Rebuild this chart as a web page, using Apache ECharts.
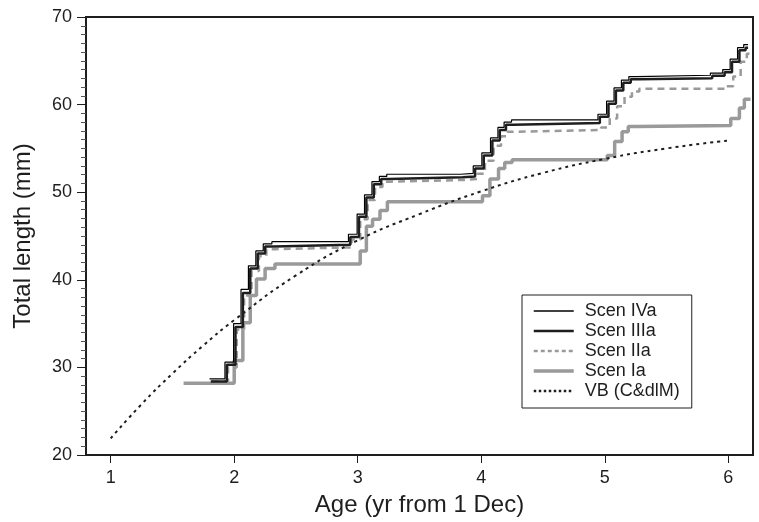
<!DOCTYPE html>
<html>
<head>
<meta charset="utf-8">
<script src="https://cdn.jsdelivr.net/npm/echarts@6/dist/echarts.min.js"></script>
<style>
  html, body { margin: 0; padding: 0; background: #fff; }
  #chart { width: 759px; height: 522px; }
</style>
</head>
<body>
<div id="chart"></div>
<script>
// [age (yr from 1 Dec), total length (mm)]
const scenIVa = [[1.80, 28.7], [1.925, 30.6], [1.995, 35.0], [2.055, 38.9], [2.115, 41.6], [2.175, 43.3], [2.235, 44.1], [2.305, 44.35], [2.925, 45.2], [2.995, 47.5], [3.055, 49.7], [3.115, 51.2], [3.175, 51.8], [3.235, 52.05], [3.835, 52.15], [3.935, 53.0], [4.005, 54.5], [4.075, 56.2], [4.135, 57.4], [4.185, 58.0], [4.245, 58.25], [4.945, 58.9], [5.015, 60.4], [5.075, 61.9], [5.135, 62.8], [5.195, 63.2], [5.255, 63.35], [5.855, 63.6], [5.955, 64.0], [6.015, 65.2], [6.075, 66.5], [6.125, 66.85], [6.16, 66.85]];
const scenIIIa = [[1.81, 28.4], [1.94, 30.3], [2.01, 34.6], [2.07, 38.5], [2.13, 41.3], [2.19, 43.0], [2.25, 43.8], [2.32, 44.0], [2.94, 44.9], [3.01, 47.2], [3.07, 49.4], [3.13, 50.9], [3.19, 51.5], [3.25, 51.7], [3.85, 51.8], [3.95, 52.7], [4.02, 54.2], [4.09, 55.9], [4.15, 57.1], [4.20, 57.7], [4.26, 57.9], [4.96, 58.6], [5.03, 60.1], [5.09, 61.6], [5.15, 62.5], [5.21, 62.9], [5.27, 63.0], [5.87, 63.3], [5.97, 63.7], [6.03, 64.9], [6.09, 66.2], [6.14, 66.5], [6.16, 66.5]];
const scenIIa = [[1.82, 28.4], [1.95, 30.0], [2.02, 34.3], [2.08, 38.2], [2.14, 41.0], [2.20, 42.7], [2.26, 43.5], [2.33, 43.7], [2.95, 44.6], [3.02, 46.9], [3.08, 49.1], [3.14, 50.6], [3.20, 51.2], [3.26, 51.4], [3.87, 51.5], [3.97, 52.1], [4.03, 53.6], [4.10, 55.3], [4.16, 56.4], [4.21, 56.9], [4.27, 57.1], [4.97, 57.4], [5.04, 58.4], [5.10, 59.8], [5.16, 60.9], [5.22, 61.5], [5.28, 61.8], [5.98, 62.1], [6.04, 63.2], [6.10, 64.9], [6.15, 65.8], [6.18, 65.8]];
const scenIa = [[1.59, 28.2], [2.0, 30.8], [2.07, 35.1], [2.13, 38.2], [2.18, 40.1], [2.25, 41.3], [2.33, 41.8], [3.02, 43.3], [3.07, 46.1], [3.12, 46.9], [3.18, 47.9], [3.24, 48.9], [4.01, 49.6], [4.07, 51.5], [4.14, 52.7], [4.19, 53.4], [4.25, 53.7], [5.02, 54.2], [5.08, 55.8], [5.14, 56.9], [5.19, 57.5], [5.26, 57.6], [6.02, 58.4], [6.09, 59.6], [6.13, 60.6], [6.18, 60.6]];
const vbAge = [1.0, 1.25, 1.5, 1.75, 2.0, 2.5, 3.0, 3.5, 4.0, 4.5, 5.0, 5.5, 6.0];
const vbLength = [21.9, 25.8, 29.3, 32.5, 35.4, 40.5, 44.5, 47.5, 50.1, 52.2, 53.8, 55.0, 55.9];
const ageTicks = [1, 2, 3, 4, 5, 6];

const ink = '#1e1e1e';
const grey = '#9a9a9a';
const font = 'Liberation Sans, Arial, sans-serif';

const chart = echarts.init(document.getElementById('chart'));
chart.setOption({
  animation: false,
  grid: {
    left: 86, right: 6, top: 17, bottom: 65,
    show: true, borderColor: ink, borderWidth: 2
  },
  legend: {
    left: 522, top: 295,
    orient: 'vertical',
    padding: [7, 12, 8, 10],
    borderColor: ink, borderWidth: 1,
    itemWidth: 40, itemHeight: 14, itemGap: 2,
    itemStyle: { opacity: 0 },
    textStyle: { fontFamily: font, fontSize: 18, lineHeight: 17, color: ink, padding: [0, 0, 0, 6] },
    data: [
      { name: 'Scen IVa', lineStyle: { width: 1.4, color: '#000' } },
      { name: 'Scen IIIa', lineStyle: { width: 2.5 } },
      { name: 'Scen IIa', lineStyle: { width: 2.5, type: [4, 3] } },
      { name: 'Scen Ia', lineStyle: { width: 3.5 } },
      { name: 'VB (C&dlM)', lineStyle: { width: 2.5, type: [2.5, 2.5] } }
    ]
  },
  xAxis: {
    type: 'value', min: 0.8, max: 6.2,
    name: 'Age (yr from 1 Dec)', nameLocation: 'middle', nameGap: 38,
    nameTextStyle: { fontFamily: font, fontSize: 24, color: ink },
    axisLine: { lineStyle: { color: ink, width: 2 } },
    axisTick: { customValues: ageTicks, length: 8, lineStyle: { color: ink, width: 1 } },
    axisLabel: { customValues: ageTicks, margin: 14, fontFamily: font, fontSize: 18, color: ink },
    splitLine: { show: false }
  },
  yAxis: {
    type: 'value', min: 20, max: 70, interval: 10,
    name: 'Total length (mm)', nameLocation: 'middle', nameGap: 51,
    nameTextStyle: { fontFamily: font, fontSize: 24, color: ink },
    axisLine: { show: true, lineStyle: { color: ink, width: 2 } },
    axisTick: { length: 9, lineStyle: { color: ink, width: 1 } },
    minorTick: { show: true, splitNumber: 10, length: 5, lineStyle: { color: '#555', width: 1 } },
    axisLabel: { margin: 14, fontFamily: font, fontSize: 18, color: ink },
    splitLine: { show: false }
  },
  series: [
    {
      name: 'Scen Ia', type: 'line', step: 'end', data: scenIa,
      symbol: 'none', color: grey,
      lineStyle: { color: grey, width: 3.5 }
    },
    {
      name: 'Scen IIa', type: 'line', step: 'end', data: scenIIa,
      symbol: 'none', color: grey,
      lineStyle: { color: grey, width: 2.5, type: [7, 5] }
    },
    {
      name: 'Scen IIIa', type: 'line', step: 'end', data: scenIIIa,
      symbol: 'none', color: ink,
      lineStyle: { color: ink, width: 2.5 }
    },
    {
      name: 'Scen IVa', type: 'line', step: 'end', data: scenIVa,
      symbol: 'none', color: '#000',
      lineStyle: { color: '#000', width: 1.2 }
    },
    {
      name: 'VB (C&dlM)', type: 'line', smooth: true,
      data: vbAge.map((a, i) => [a, vbLength[i]]),
      symbol: 'none', color: ink,
      lineStyle: { color: ink, width: 2, type: [3, 4] }
    }
  ]
});
</script>
</body>
</html>
